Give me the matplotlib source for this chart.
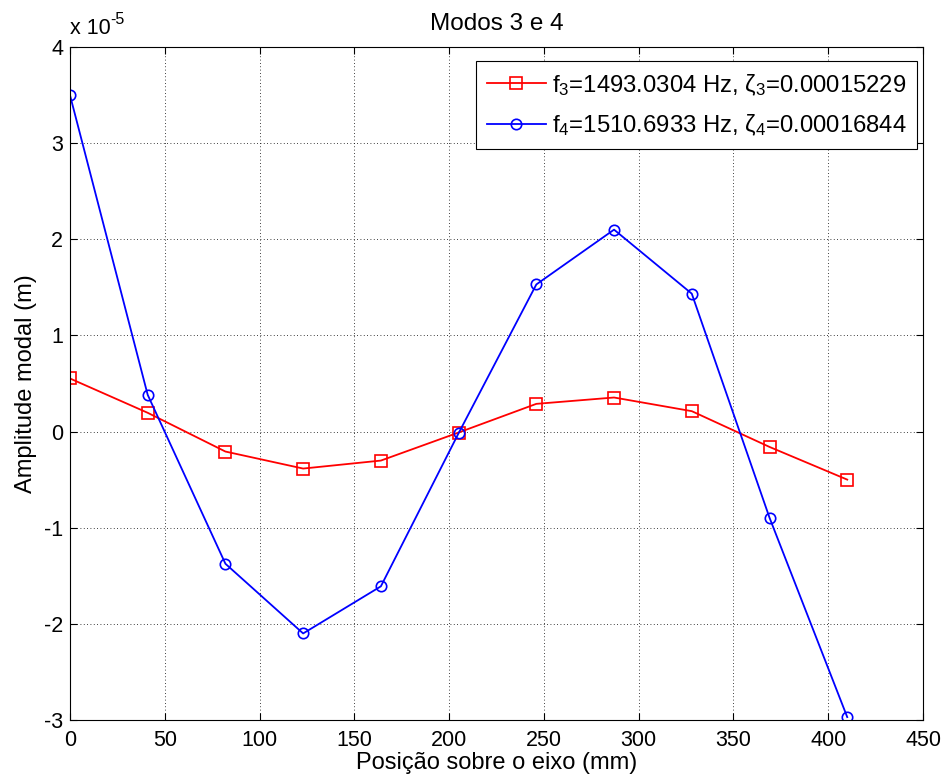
import matplotlib
matplotlib.use("Agg")
import matplotlib.pyplot as plt

plt.rcParams['font.family'] = ['Liberation Sans', 'DejaVu Sans']
plt.rcParams['mathtext.fontset'] = 'custom'
plt.rcParams['mathtext.rm'] = 'Liberation Sans'
plt.rcParams['mathtext.it'] = 'Liberation Sans'
plt.rcParams['mathtext.bf'] = 'Liberation Sans'

# Data (amplitudes in units of 1e-5 m)
posicao = [0, 41, 82, 123, 164, 205, 246, 287, 328, 369, 410]
modo3 = [0.552, 0.195, -0.208, -0.385, -0.302, -0.01, 0.288, 0.354, 0.212, -0.16, -0.50]
modo4 = [3.50, 0.382, -1.375, -2.10, -1.61, -0.017, 1.53, 2.10, 1.434, -0.896, -2.97]
label3 = "f$_3$=1493.0304 Hz, ζ$_3$=0.00015229"
label4 = "f$_4$=1510.6933 Hz, ζ$_4$=0.00016844"
xticks = list(range(0, 451, 50))
yticks = list(range(-3, 5))

fig = plt.figure(figsize=(9.48, 7.83), dpi=100)
ax = fig.add_axes([0.0738, 0.0805, 0.8999, 0.8595])

ax.plot(posicao, modo3, '-s', color='red', lw=1.3, markersize=8,
        markerfacecolor='none', markeredgewidth=1.2, label=label3)
ax.plot(posicao, modo4, '-o', color='blue', lw=1.3, markersize=7.5,
        markerfacecolor='none', markeredgewidth=1.2, label=label4)

ax.set_xlim(0, 450)
ax.set_ylim(-3, 4)
ax.set_xticks(xticks)
ax.set_yticks(yticks)
ax.set_xticklabels([str(t) for t in xticks])
ax.set_yticklabels([str(t) for t in yticks])
ax.tick_params(direction='in', length=5, labelsize=15.5, top=True, right=True)
ax.tick_params(axis='x', pad=7)
ax.tick_params(axis='y', pad=5)
ax.grid(True, linestyle=(0, (1, 3)), color='black', lw=0.6)
for s in ax.spines.values():
    s.set_linewidth(0.8)

ax.set_title("Modos 3 e 4", fontsize=17.5, pad=12)
ax.set_xlabel("Posição sobre o eixo (mm)", fontsize=17, labelpad=1)
ax.set_ylabel("Amplitude modal (m)", fontsize=17, labelpad=5)
t = ax.text(0.0, 1.012, "x 10", transform=ax.transAxes, fontsize=15.5,
            ha='left', va='bottom')
ax.annotate("-5", xy=(1, 0.55), xycoords=t, fontsize=11.5, ha='left', va='bottom')

leg = ax.legend(loc='upper right', bbox_to_anchor=(0.993, 0.979), borderaxespad=0,
                fontsize=17.2, fancybox=False, framealpha=1, edgecolor='black',
                handlelength=2.45, handletextpad=0.25, borderpad=0.45,
                labelspacing=0.6)
leg.get_frame().set_linewidth(0.8)

fig.savefig("out.png", dpi=100)
